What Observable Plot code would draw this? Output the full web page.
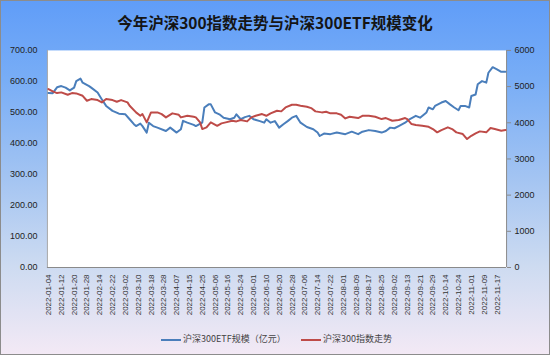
<!DOCTYPE html>
<html><head><meta charset="utf-8">
<script src="https://cdn.jsdelivr.net/npm/d3@7"></script>
<script src="https://cdn.jsdelivr.net/npm/@observablehq/plot@0.6"></script>
<style>
html,body{margin:0;padding:0;}
#wrap{position:relative;width:550px;height:355px;box-sizing:border-box;border:1px solid #8c8c8c;
background:linear-gradient(to bottom,#609df8 0%,#78adf6 22%,#a3c4f2 50%,#cddbf1 75%,#f3e9f5 100%);overflow:hidden;}
#chart{position:absolute;left:-1px;top:-1px;}
#title{position:absolute;left:-1px;top:10px;width:550px;text-align:center;font:bold 15.5px "Noto Sans CJK SC",sans-serif;color:#151515;}
.lg{position:absolute;font:9px "Noto Sans CJK SC",sans-serif;color:#444;line-height:12px;white-space:nowrap;}
.ln{position:absolute;height:1.5px;width:20px;}
</style></head>
<body>
<div id="wrap">
<div id="chart"></div>
<div id="title">今年沪深300指数走势与沪深300ETF规模变化</div>
<div class="ln" style="left:160px;top:338px;background:#4a7ebb"></div>
<div class="lg" style="left:182px;top:332px">沪深300ETF规模（亿元）</div>
<div class="ln" style="left:300px;top:338px;background:#be4b48"></div>
<div class="lg" style="left:322px;top:332px">沪深300指数走势</div>
</div>
<script>
// x tick labels (every 6 trading days)
const xLabels = ["2022-01-04","2022-01-12","2022-01-20","2022-01-28","2022-02-14","2022-02-22","2022-03-02","2022-03-10","2022-03-18","2022-03-28","2022-04-07","2022-04-15","2022-04-25","2022-05-06","2022-05-16","2022-05-24","2022-06-01","2022-06-10","2022-06-20","2022-06-28","2022-07-06","2022-07-14","2022-07-22","2022-08-01","2022-08-09","2022-08-17","2022-08-25","2022-09-02","2022-09-13","2022-09-21","2022-09-29","2022-10-14","2022-10-24","2022-11-01","2022-11-09","2022-11-17"];
const nDays = 215;
// ETF size (亿元), sampled trading-day index / value
const etfDay = [0,2,4,6,8,10,12,13,15,16,19,20,23,25,27,30,33,36,38,40,41,43,44,46,47,49,51,55,57,60,62,63,65,68,69,72,73,75,76,78,80,82,85,87,88,90,92,94,96,99,101,102,104,106,108,110,112,114,116,118,121,124,126,127,129,132,135,139,142,145,147,150,153,156,158,160,162,164,167,169,172,174,177,178,180,181,184,186,188,190,192,193,195,197,198,200,201,203,205,206,208,210,212,214];
const etfVal = [563,562,581,585,580,571,580,601,609,596,585,580,564,542,521,505,496,494,478,462,456,464,456,435,467,456,451,440,451,435,446,473,467,460,456,467,516,526,526,500,494,483,478,483,494,478,485,489,478,472,467,478,467,472,451,462,472,483,489,467,453,446,435,424,432,430,435,430,438,430,438,443,440,435,440,451,449,456,467,478,489,483,500,516,510,521,532,537,526,516,507,521,521,516,553,558,591,601,596,628,646,639,631,631];
// CSI 300 index level
const csiDay = [0,2,4,6,9,11,13,16,18,20,23,25,27,30,32,34,37,38,41,43,44,46,47,48,51,53,55,58,61,62,65,68,69,71,72,74,76,79,81,83,86,88,90,93,95,97,100,102,104,107,109,111,114,116,118,121,123,125,128,130,132,135,137,139,141,145,147,150,153,156,158,161,164,167,168,170,172,175,178,180,182,184,187,189,191,194,196,198,200,202,205,207,209,212,214];
const csiVal = [4931,4867,4820,4840,4775,4820,4812,4746,4608,4655,4627,4563,4655,4627,4580,4627,4563,4470,4287,4193,4240,4011,4149,4287,4287,4240,4149,4260,4221,4149,4193,4166,4149,4011,3826,3873,4011,3917,3983,4011,4055,4038,4075,4038,4149,4193,4240,4193,4260,4331,4315,4425,4497,4497,4470,4442,4406,4315,4287,4304,4260,4260,4221,4120,4166,4130,4193,4193,4166,4102,4130,4055,4075,4130,4102,3964,3936,3917,3890,3826,3735,3798,3873,3826,3735,3688,3550,3641,3707,3762,3735,3854,3826,3779,3798];
const leftTicks = [0,100,200,300,400,500,600,700];
const rightTicks = [0,1000,2000,3000,4000,5000,6000];

const ratio = 700/6000;
const etf = etfDay.map((d,i)=>({d, v: etfVal[i]}));
const csi = csiDay.map((d,i)=>({d, v: csiVal[i]*ratio}));

const chart = Plot.plot({
  width: 550, height: 355,
  marginTop: 50, marginBottom: 87.5, marginLeft: 47, marginRight: 43,
  style: {background: "transparent", fontFamily: "'Liberation Sans', Arial, sans-serif", fontSize: "9px", color: "#222"},
  x: {domain: [-0.5, nDays - 0.5], axis: null},
  y: {domain: [0, 700], axis: null},
  marks: [
    Plot.frame({fill: "white", stroke: null}),
    Plot.ruleX([-0.5], {stroke: "#a8a8a8"}),
    Plot.ruleX([nDays - 0.5], {stroke: "#8a8a8a"}),
    Plot.ruleY([0], {stroke: "#8a8a8a"}),
    Plot.axisY(leftTicks, {anchor: "left", tickSize: 0, tickPadding: 10, tickFormat: d => d.toFixed(2), fontSize: 9, label: null}),
    Plot.axisY(rightTicks.map(v => v*ratio), {anchor: "right", tickSize: 4, tickPadding: 4, stroke: "#8a8a8a", tickFormat: d => String(Math.round(d/ratio)), fontSize: 9, label: null}),
    Plot.axisX(xLabels.map((s,i)=>i*6), {anchor: "bottom", tickSize: 0, tickPadding: 7, tickRotate: -90, tickFormat: d => xLabels[d/6], fontSize: 8, fill: "#333", label: null}),
    Plot.line(etf, {x: "d", y: "v", stroke: "#4a7ebb", strokeWidth: 2}),
    Plot.line(csi, {x: "d", y: "v", stroke: "#be4b48", strokeWidth: 2})
  ]
});
document.getElementById("chart").appendChild(chart);
</script>
</body></html>
